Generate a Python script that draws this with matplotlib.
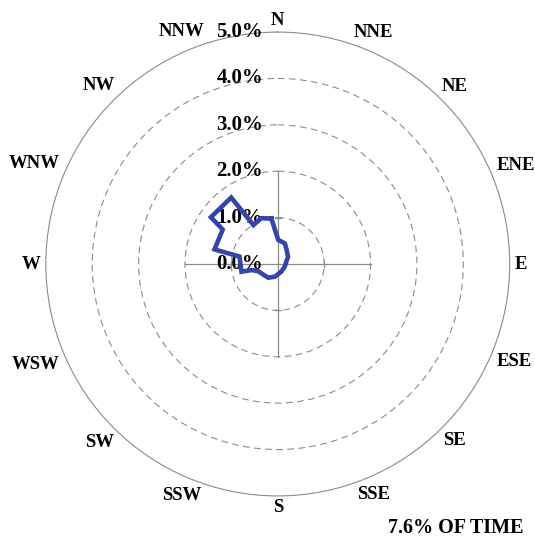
import numpy as np
import matplotlib
matplotlib.use("Agg")
import matplotlib.pyplot as plt
from matplotlib.transforms import offset_copy

# outline of the rose (bearing in degrees, percent of time)
bearings = [352, 1, 19, 32, 55, 75, 111, 154, 193, 215, 235, 250, 257, 258,
            281, 283, 302, 305, 325, 328, 340]
percents = [0.99, 0.52, 0.47, 0.36, 0.27, 0.19, 0.16, 0.18, 0.28, 0.36, 0.39,
            0.45, 0.58, 0.80, 0.84, 1.40, 1.40, 1.76, 1.75, 0.99, 1.05]

directions = ["N", "NNE", "NE", "ENE", "E", "ESE", "SE", "SSE",
              "S", "SSW", "SW", "WSW", "W", "WNW", "NW", "NNW"]
rings = [0, 1, 2, 3, 4, 5]
ring_labels = ["0.0%", "1.0%", "2.0%", "3.0%", "4.0%", "5.0%"]
total_text = "7.6% OF TIME"

plt.rcParams["font.family"] = ["Liberation Serif", "DejaVu Serif"]
plt.rcParams["font.weight"] = "bold"

fig = plt.figure(figsize=(5.35, 5.44), dpi=100)
ax = fig.add_axes([0.0857, 0.0882, 0.867, 0.853], projection="polar")
ax.set_theta_zero_location("N")
ax.set_theta_direction(-1)
ax.set_ylim(0, 5)

grey = "#8a8a8a"
ax.set_xticks([])
ax.set_yticks([1, 2, 3, 4])
ax.set_yticklabels([])
ax.yaxis.grid(True, color=grey, linestyle=(0, (6, 4)), linewidth=0.8)
ax.xaxis.grid(False)
ax.spines["polar"].set_color(grey)
ax.spines["polar"].set_linewidth(0.8)

# cross through the centre
for a in [0, 90, 180, 270]:
    t = np.radians(a)
    ax.plot([t, t], [0, 2], color=grey, lw=0.9, zorder=2)
    ax.plot([t - 0.06, t + 0.06], [1, 1], color=grey, lw=0.9, zorder=2)

# ring labels along the north axis
trans = offset_copy(ax.transData, fig=fig, x=-14.5, y=0, units="dots")
for r, lab in zip(rings, ring_labels):
    ax.text(0, r, lab, transform=trans, ha="right", va="center",
            fontsize=15, fontweight="bold", zorder=3)

# compass labels: sit just outside the outer circle, pushed out by their size
fig.canvas.draw()
renderer = fig.canvas.get_renderer()
for i, d in enumerate(directions):
    a = np.radians(i * 22.5)
    t = ax.text(a, 5, d, ha="center", va="center", fontsize=13.5,
                fontweight="bold")
    bb = t.get_window_extent(renderer)
    ux, uy = np.sin(a), np.cos(a)
    dist = 5 + (abs(ux) * bb.width + abs(uy) * bb.height * 0.8) / 2
    t.set_transform(offset_copy(ax.transData, fig=fig, x=ux * dist,
                                y=uy * dist, units="dots"))

th = np.radians(bearings + bearings[:1])
rr = percents + percents[:1]
ax.plot(th, rr, color="#3344aa", lw=3.3, solid_joinstyle="miter", zorder=5)

fig.text(0.978, 0.0285, total_text, ha="right", va="center",
         fontsize=14.5, fontweight="bold")

fig.savefig("out.png", dpi=100)
